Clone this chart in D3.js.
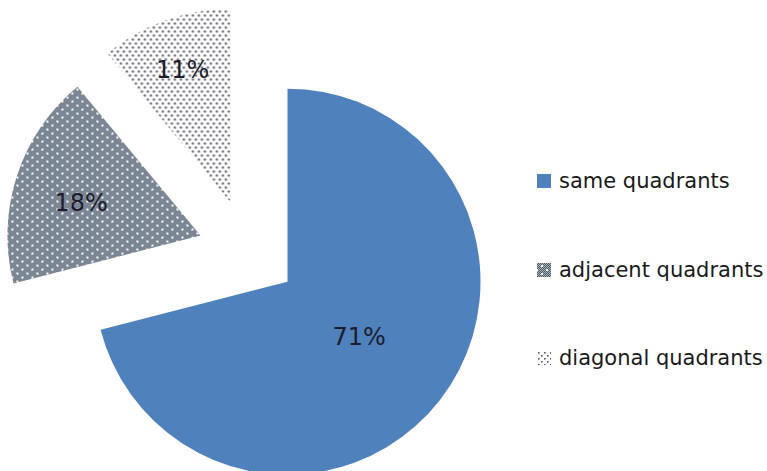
<!DOCTYPE html>
<html>
<head>
<meta charset="utf-8">
<script src="https://cdn.jsdelivr.net/npm/d3@7"></script>
<style>
  html, body { margin: 0; padding: 0; background: #fff; }
  svg { display: block; }
</style>
</head>
<body>
<svg id="chart" width="767" height="471"></svg>
<script>
const categories = ["same quadrants", "adjacent quadrants", "diagonal quadrants"];
const values = [71, 18, 11];
const valueLabels = ["71%", "18%", "11%"];

const W = 767, H = 471;
const svg = d3.select("#chart");
const defs = svg.append("defs");

// adjacent pattern: dark checker with white dots
const pA = defs.append("pattern").attr("id", "patAdj")
  .attr("patternUnits", "userSpaceOnUse").attr("width", 10).attr("height", 8);
pA.append("rect").attr("width", 10).attr("height", 8).attr("fill", "#4b5a6b");
for (let y = 0; y < 8; y += 2) for (let x = 0; x < 10; x += 2) {
  pA.append("rect").attr("x", x).attr("y", y).attr("width", 1).attr("height", 1).attr("fill", "#aab3bd");
  pA.append("rect").attr("x", x + 1).attr("y", y + 1).attr("width", 1).attr("height", 1).attr("fill", "#aab3bd");
}
pA.append("rect").attr("x", 1).attr("y", 1).attr("width", 2).attr("height", 2).attr("fill", "#fff");
pA.append("rect").attr("x", 6).attr("y", 5).attr("width", 2).attr("height", 2).attr("fill", "#fff");

// diagonal pattern: white with grey dots
const pD = defs.append("pattern").attr("id", "patDiag")
  .attr("patternUnits", "userSpaceOnUse").attr("width", 6).attr("height", 8);
pD.append("rect").attr("width", 6).attr("height", 8).attr("fill", "#fff");
pD.append("rect").attr("x", 0.5).attr("y", 0.5).attr("width", 2).attr("height", 2).attr("fill", "#474b53");
pD.append("rect").attr("x", 3.5).attr("y", 4.5).attr("width", 2).attr("height", 2).attr("fill", "#474b53");

// legend diagonal pattern (sparser)
const pL = defs.append("pattern").attr("id", "patDiagLeg")
  .attr("patternUnits", "userSpaceOnUse").attr("width", 6).attr("height", 6);
pL.append("rect").attr("width", 6).attr("height", 6).attr("fill", "#fff");
pL.append("rect").attr("x", 1).attr("y", 1).attr("width", 1.6).attr("height", 1.6).attr("fill", "#55595f");
pL.append("rect").attr("x", 4).attr("y", 4).attr("width", 1.6).attr("height", 1.6).attr("fill", "#55595f");

const fills = ["#4f81bd", "url(#patAdj)", "url(#patDiag)"];
const legendFills = ["#4f81bd", "url(#patAdj)", "url(#patDiagLeg)"];

const cx = 248, cy = 251, r = 193;
const explode = [50, 50, 52];
const labelFrac = [0.47, 0.64, 0.73];

const pie = d3.pie().sort(null).value(d => d)(values);
const arc = d3.arc().innerRadius(0).outerRadius(r);

const g = svg.append("g").attr("transform", `translate(${cx},${cy})`);

pie.forEach((p, i) => {
  const mid = (p.startAngle + p.endAngle) / 2;
  const dx = Math.sin(mid) * explode[i], dy = -Math.cos(mid) * explode[i];
  const sg = g.append("g").attr("transform", `translate(${dx},${dy})`);
  sg.append("path").attr("d", arc(p)).attr("fill", fills[i]);
  const lr = r * labelFrac[i];
  const la = mid + (i === 1 ? -0.05 : 0);
  sg.append("text")
    .attr("x", Math.sin(la) * lr)
    .attr("y", -Math.cos(la) * lr)
    .attr("text-anchor", "middle")
    .attr("dominant-baseline", "central")
    .attr("font-family", "'DejaVu Sans', sans-serif")
    .attr("font-size", 24)
    .attr("fill", "#1c1c2c")
    .text(valueLabels[i]);
});

// legend
const legY = [181, 270, 358];
const leg = svg.append("g");
categories.forEach((c, i) => {
  leg.append("rect").attr("x", 537).attr("y", legY[i] - 7).attr("width", 14).attr("height", 14)
    .attr("fill", legendFills[i]);
  leg.append("text").attr("x", 559).attr("y", legY[i])
    .attr("dominant-baseline", "central")
    .attr("font-family", "'DejaVu Sans', sans-serif")
    .attr("font-size", 21)
    .attr("fill", "#1a1a1a")
    .text(c);
});
</script>
</body>
</html>
